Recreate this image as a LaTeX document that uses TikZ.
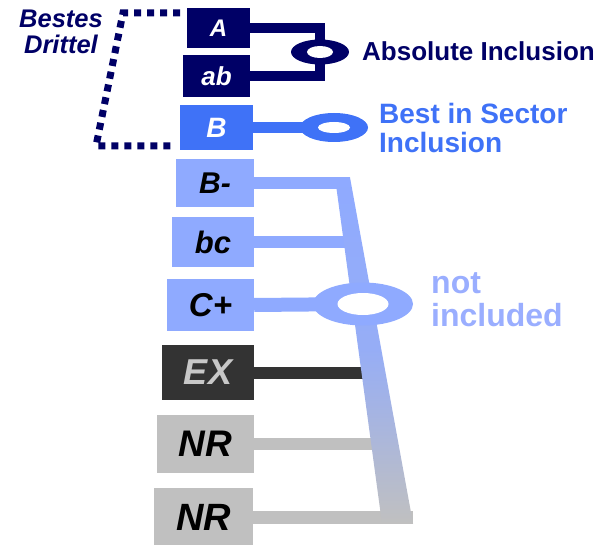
\documentclass[tikz,border=0pt]{standalone}
\usepackage{fontspec}
\setmainfont{Liberation Sans}
\definecolor{navy}{HTML}{000066}
\definecolor{sectorblue}{HTML}{3F72F7}
\definecolor{nincl}{HTML}{8FAAFF}
\definecolor{nincltext}{HTML}{9AAEFF}
\definecolor{exdark}{HTML}{333333}
\definecolor{extext}{HTML}{C8C8C8}
\definecolor{nrgray}{HTML}{C0C0C0}
% bold italic label of size #1
\newcommand{\bi}[1]{\fontsize{#1}{#1}\selectfont\bfseries\itshape}
\newcommand{\bu}[2]{\fontsize{#1}{#2}\selectfont\bfseries}

\begin{document}
\begin{tikzpicture}[x=1pt, y=-1pt,
  box/.style = {rectangle, inner sep=0pt, anchor=center},
  lab/.style = {inner sep=0pt, anchor=west, align=left}]
\useasboundingbox (0,0) rectangle (602,545);

% rating boxes
\node[box, fill=navy, text=white, minimum width=63, minimum height=40] (A) at (218.5,28) {\bi{24}A};
\node[box, fill=navy, text=white, minimum width=67, minimum height=42] (ab) at (216.5,76) {\bi{26}ab};
\node[box, fill=sectorblue, text=white, minimum width=73, minimum height=45] (B) at (216.5,127.5) {\bi{28}B};
\node[box, fill=nincl, minimum width=78, minimum height=48] (Bm) at (215,183.5) {\bi{30}B-};
\node[box, fill=nincl, minimum width=82, minimum height=50] (bc) at (213,242) {\bi{31}bc};
\node[box, fill=nincl, minimum width=87, minimum height=52] (Cp) at (210.5,305) {\bi{33}C+};
\node[box, fill=exdark, text=extext, minimum width=92, minimum height=55] (EX) at (208,372.5) {\bi{36}EX};
\node[box, fill=nrgray, minimum width=97, minimum height=58] (NRa) at (205.5,444) {\bi{37}NR};
\node[box, fill=nrgray, minimum width=99, minimum height=58] (NRb) at (203.5,517) {\bi{38}NR};

% joins
\coordinate (absring) at (320,52);
\coordinate (secring) at (334,127.5);
\coordinate (nring) at (363,304);
\coordinate (jBm) at (350,183.5);
\coordinate (jbc) at (350,242);
\coordinate (jEX) at (370,372.5);
\coordinate (jNRa) at (380,444);
\coordinate (jNRb) at (413,517);

% dotted bracket
\draw[navy, line width=7, dash pattern=on 7 off 6] (180,13) -- (123,13) -- (96,146) -- (172,146);
\node[text=navy, align=center, inner sep=0pt, font={\bi{25.5}}] (best) at (61,32) {Bestes\\Drittel};

% absolute inclusion
\draw[navy, line width=10.5] (A.east) -| (absring) |- (ab.east);
\fill[navy] (absring) ellipse [x radius=29, y radius=12.5];
\fill[white] (absring) ellipse [x radius=13, y radius=6];
\node[lab, text=navy, font={\bu{26}{28}}] (abslab) at (362,51) {Absolute Inclusion};

% best in sector
\draw[sectorblue, line width=11] (B.east) -- (secring);
\fill[sectorblue] (secring) ellipse [x radius=34, y radius=14.5];
\fill[white] (secring) ellipse [x radius=16, y radius=5.5];
\node[lab, text=sectorblue, font={\bu{28}{29}}] (seclab) at (379,127.5) {Best in Sector\\Inclusion};

% not included
\draw[nincl, line width=12] (Bm.east) -- (jBm);
\draw[nincl, line width=12] (bc.east) -- (jbc);
\draw[nincl, line width=14] (Cp.east) -- (nring);
\draw[exdark, line width=12] (EX.east) -- (jEX);
\draw[nrgray, line width=12] (NRa.east) -- (jNRa);
\draw[nrgray, line width=13] (NRb.east) -- (jNRb);
\shade[top color=nincl, bottom color=nrgray, middle color=nincl!85!nrgray]
  (335,177.5) -- (350,177.5) -- (413,523.5) -- (382,523.5) -- cycle;
\fill[nincl] (nring) ellipse [x radius=50, y radius=21.5];
\fill[white] (nring) ellipse [x radius=25.5, y radius=11];
\node[lab, text=nincltext, font={\bu{32}{33}}] (notlab) at (431,300) {not\\included};

\end{tikzpicture}
\end{document}
